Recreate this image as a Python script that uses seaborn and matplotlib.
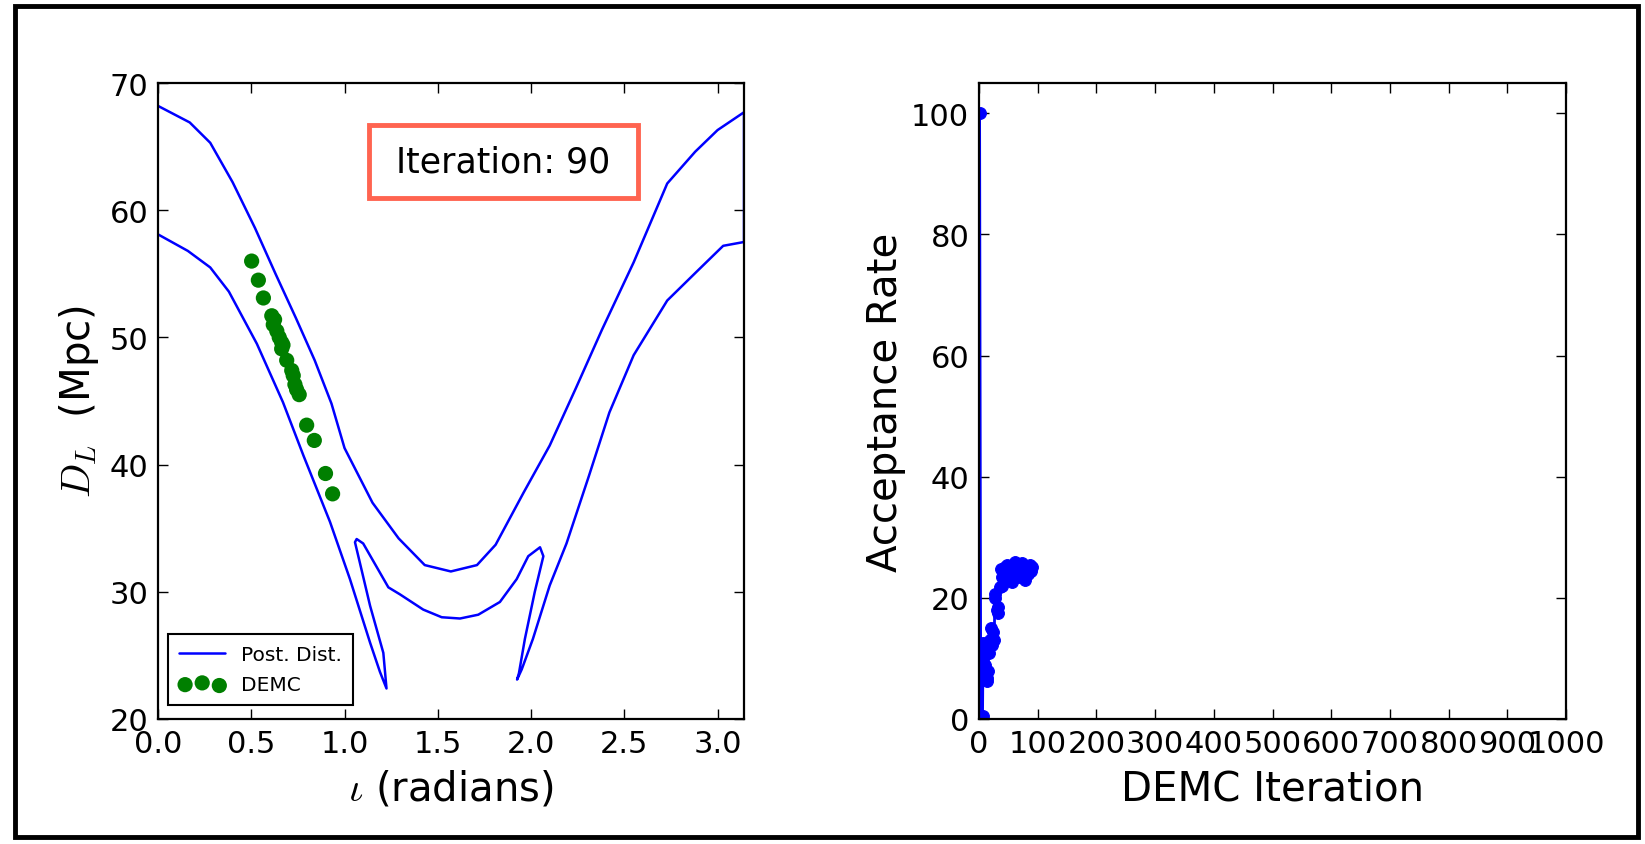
import numpy as np
import pandas as pd
import matplotlib
matplotlib.use("Agg")
import matplotlib.pyplot as plt
from matplotlib.patches import Rectangle
from matplotlib.lines import Line2D
import seaborn as sns

# ---------------- data ----------------
# posterior-distribution contour: upper branch (left -> right)
upper_x = [0.0, 0.17, 0.28, 0.40, 0.52, 0.63, 0.74, 0.84, 0.93, 1.00, 1.15, 1.29, 1.43,
           1.57, 1.71, 1.81, 1.96, 2.10, 2.24, 2.38, 2.55, 2.73, 2.88, 3.00, 3.1416]
upper_y = [68.2, 66.9, 65.3, 62.2, 58.6, 55.0, 51.5, 48.2, 44.8, 41.3, 37.0, 34.2, 32.1,
           31.6, 32.1, 33.7, 37.8, 41.5, 46.0, 50.6, 55.9, 62.1, 64.6, 66.3, 67.7]
# lower branch (right -> left, including the two narrow spikes)
lower_x = [3.1416, 3.03, 2.89, 2.73, 2.55, 2.42, 2.31, 2.19, 2.10, 2.01, 1.95, 1.925,
           1.935, 1.967, 2.02, 2.066, 2.048, 1.985, 1.923, 1.833, 1.717, 1.619, 1.521,
           1.422, 1.297, 1.235, 1.10, 1.065, 1.056, 1.082, 1.137, 1.208, 1.225,
           1.19, 1.137, 1.029, 0.922, 0.78, 0.67, 0.53, 0.38, 0.28, 0.16, 0.0]
lower_y = [57.5, 57.2, 55.2, 52.9, 48.6, 44.1, 39.1, 33.8, 30.5, 26.3, 23.9, 23.1,
           23.6, 26.3, 30.0, 32.8, 33.5, 32.8, 31.0, 29.2, 28.2, 27.9, 28.0,
           28.6, 29.8, 30.35, 33.8, 34.15, 33.9, 32.3, 28.9, 25.2, 22.4,
           23.7, 26.0, 31.0, 35.5, 40.7, 44.9, 49.5, 53.6, 55.5, 56.8, 58.1]

# DEMC sample positions
demc_x = [0.502, 0.538, 0.565, 0.610, 0.618, 0.625, 0.637, 0.650, 0.663, 0.663, 0.670,
          0.690, 0.717, 0.725, 0.734, 0.743, 0.757, 0.797, 0.838, 0.898, 0.936]
demc_y = [56.0, 54.5, 53.1, 51.7, 51.0, 51.4, 50.5, 50.0, 49.6, 49.1, 49.4,
          48.2, 47.4, 47.0, 46.3, 45.9, 45.5, 43.1, 41.9, 39.3, 37.7]

# acceptance rate vs DEMC iteration
acc_iter = [1, 3, 5, 6, 7, 8, 9, 10, 11, 12, 13, 14, 15, 17, 19, 21, 22, 24, 26, 27,
            28, 30, 32, 33, 35, 37, 39, 40, 42, 44, 46, 48, 50, 53, 56, 58, 61, 64, 67, 70,
            73, 75, 78, 81, 84, 87, 89, 91]
acc_rate = [100, 0, 0, 0.5, 12.5, 11.5, 10.6, 12.0, 8.9, 7.5, 6.7, 6.3, 8.0, 10.9, 13.0,
            15.0, 12.2, 14.4, 13.0, 20.7, 19.9, 18.0, 18.5, 17.5, 21.8, 24.8, 23.5, 22.0,
            24.5, 25.1, 23.8, 25.5, 23.2, 24.0, 22.6, 25.0, 25.9, 24.8, 23.5, 24.0, 25.7,
            24.2, 23.0, 25.1, 24.0, 25.5, 24.5, 25.1]

current_iteration = 90
left_xticks = [0.0, 0.5, 1.0, 1.5, 2.0, 2.5, 3.0]
left_yticks = [20, 30, 40, 50, 60, 70]
right_xticks = list(range(0, 1001, 100))
right_yticks = [0, 20, 40, 60, 80, 100]

# ---------------- style ----------------
sns.set_theme(style="white")
plt.rcParams["font.family"] = ["DejaVu Sans"]
plt.rcParams["mathtext.fontset"] = "cm"
plt.rcParams["text.color"] = "black"
plt.rcParams["axes.labelcolor"] = "black"
plt.rcParams["xtick.color"] = "black"
plt.rcParams["ytick.color"] = "black"

fig = plt.figure(figsize=(16.45, 8.45), dpi=100)
W, H = 1645, 845
ax1 = fig.add_axes([158 / W, (H - 720) / H, 586 / W, 636 / H])
ax2 = fig.add_axes([979 / W, (H - 720) / H, 587 / W, 636 / H])

contour = pd.DataFrame({"x": upper_x + lower_x, "y": upper_y + lower_y})
sns.lineplot(data=contour, x="x", y="y", sort=False, estimator=None,
             color="#0000FF", lw=1.8, ax=ax1)
demc = pd.DataFrame({"x": demc_x, "y": demc_y})
sns.scatterplot(data=demc, x="x", y="y", color="#007F00", s=120,
                edgecolor="none", ax=ax1, zorder=3)

acc = pd.DataFrame({"it": acc_iter, "rate": acc_rate})
sns.lineplot(data=acc, x="it", y="rate", sort=False, estimator=None, color="#0000FF",
             lw=2, marker="o", markersize=8.5, markeredgecolor="#0000FF", ax=ax2)

for ax in (ax1, ax2):
    ax.tick_params(direction="in", length=7, width=1, labelsize=22, pad=7,
                   top=True, right=True, bottom=True, left=True,
                   colors="black", labelcolor="black")
    for sp in ax.spines.values():
        sp.set_visible(True)
        sp.set_linewidth(1.6)
        sp.set_color("black")
    ax.grid(False)

ax1.set_xlim(0, np.pi)
ax1.set_ylim(20, 70)
ax1.set_xticks(left_xticks)
ax1.set_xticklabels([f"{t:.1f}" for t in left_xticks])
ax1.set_yticks(left_yticks)
ax1.set_xlabel(r"$\iota$ (radians)", fontsize=29, labelpad=8, color="black")
ax1.set_ylabel(r"$D_L$  (Mpc)", fontsize=29, labelpad=6, color="black")

ax2.set_xlim(0, 1000)
ax2.set_ylim(0, 105)
ax2.set_xticks(right_xticks)
ax2.set_yticks(right_yticks)
ax2.set_xlabel("DEMC Iteration", fontsize=29, labelpad=8, color="black")
ax2.set_ylabel("Acceptance Rate", fontsize=29, labelpad=4, color="black")

# legend
handles = [Line2D([], [], color="#0000FF", lw=1.8),
           ax1.collections[0]]
leg = ax1.legend(handles, ["Post. Dist.", "DEMC"], loc="lower left",
                 bbox_to_anchor=(0.017, 0.022), borderaxespad=0, fontsize=14.5,
                 scatterpoints=3, scatteryoffsets=[0.375, 0.5, 0.3125],
                 fancybox=False, framealpha=1, edgecolor="black",
                 handlelength=2.3, borderpad=0.55, labelspacing=0.55)
leg.get_frame().set_linewidth(1.5)
for t in leg.get_texts():
    t.set_color("black")

# iteration box
ax1.add_patch(Rectangle((0.360, 0.819), 0.459, 0.115, transform=ax1.transAxes,
                        fill=False, edgecolor="#FF6450", lw=3.5, zorder=4))
ax1.text(0.589, 0.877, f"Iteration: {current_iteration}", transform=ax1.transAxes,
         ha="center", va="center", fontsize=25, color="black", zorder=5)

# figure frame
fig.patches.append(Rectangle((15 / W, 7 / H), (1638 - 15) / W, (838 - 7) / H,
                             transform=fig.transFigure, fill=False,
                             edgecolor="black", lw=3.5))

fig.savefig("out.png", dpi=100, facecolor="white")
